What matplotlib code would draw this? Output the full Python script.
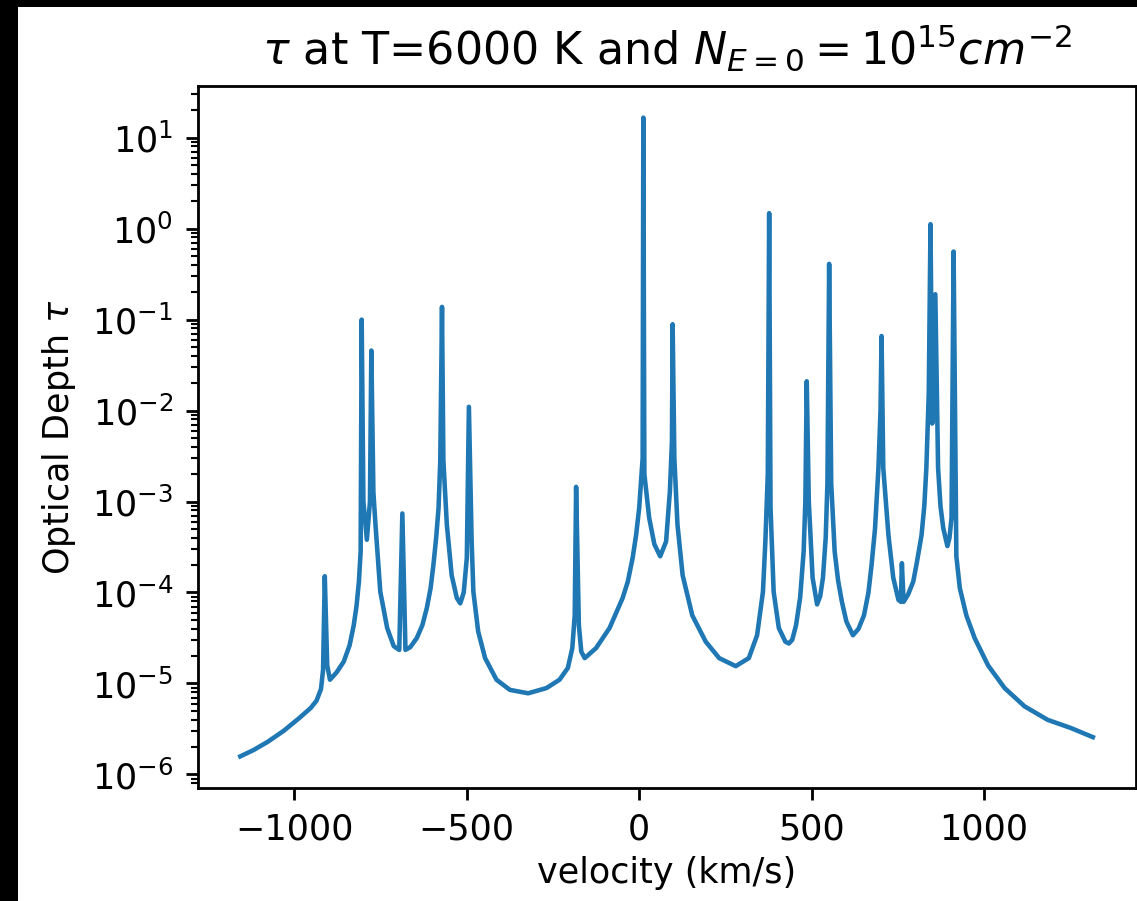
import matplotlib
matplotlib.use("Agg")
import matplotlib.pyplot as plt
from matplotlib.patches import Rectangle

# velocity (km/s) and optical depth
velocity = [
    -1157, -1118, -1077, -1031, -986, -953, -936, -923, -917, -912,
    -905, -897, -878, -857, -840, -828, -820, -813, -808, -805,
    -800, -790, -781, -777, -771, -765, -751, -731, -712, -696,
    -687, -678, -664, -645, -629, -616, -605, -597, -589, -582,
    -577, -572, -568, -558, -544, -529, -519, -509, -500, -494,
    -486, -481, -467, -447, -414, -375, -322, -269, -231, -207,
    -194, -187, -183, -175, -168, -158, -125, -86, -48, -33,
    -19, -9, 0, 10, 12, 15, 29, 44, 61, 78,
    89, 95, 97, 102, 111, 126, 154, 193, 232, 280,
    318, 342, 359, 366, 373, 377, 381, 390, 405, 424,
    434, 444, 455, 467, 477, 482, 486, 492, 503, 516,
    525, 533, 541, 546, 551, 557, 567, 577, 588, 601,
    620, 636, 652, 665, 674, 684, 694, 700, 703, 708,
    723, 737, 752, 759, 762, 767, 780, 795, 806, 819,
    827, 833, 840, 845, 850, 859, 867, 874, 882, 894,
    900, 906, 912, 920, 930, 949, 973, 1012, 1060, 1118,
    1185, 1252, 1316,
]
tau = [
    1.58e-6, 1.86e-6, 2.29e-6, 3.02e-6, 4.17e-6, 5.37e-6, 6.46e-6, 8.7e-6, 1.41e-5, 1.51e-4,
    1.58e-5, 1.10e-5, 1.32e-5, 1.74e-5, 2.63e-5, 4.37e-5, 7.08e-5, 1.32e-4, 2.82e-4, 0.100,
    1.0e-3, 3.8e-4, 1.0e-3, 0.0457, 1.26e-3, 5.6e-4, 1.02e-4, 4.07e-5, 2.57e-5, 2.34e-5,
    7.4e-4, 2.34e-5, 2.51e-5, 3.16e-5, 4.37e-5, 6.76e-5, 1.12e-4, 2.0e-4, 3.98e-4, 8.5e-4,
    2.82e-3, 0.138, 2.82e-3, 5.6e-4, 1.55e-4, 8.7e-5, 7.6e-5, 1.0e-4, 2.4e-4, 0.011,
    3.63e-4, 1.02e-4, 3.72e-5, 1.9e-5, 1.10e-5, 8.5e-6, 7.8e-6, 8.9e-6, 1.10e-5, 1.48e-5,
    2.45e-5, 5.6e-5, 1.45e-3, 4.37e-5, 2.24e-5, 1.9e-5, 2.45e-5, 4.07e-5, 8.7e-5, 1.32e-4,
    2.4e-4, 4.27e-4, 8.5e-4, 3.0e-3, 16.6, 2.0e-3, 6.6e-4, 3.39e-4, 2.5e-4, 3.63e-4,
    1.29e-3, 4.57e-3, 0.089, 3.0e-3, 5.6e-4, 1.55e-4, 5.6e-5, 2.88e-5, 1.9e-5, 1.55e-5,
    1.9e-5, 3.39e-5, 1.02e-4, 3.63e-4, 2.0e-3, 1.48, 8.5e-4, 1.02e-4, 4.07e-5, 2.88e-5,
    2.75e-5, 3.02e-5, 4.37e-5, 8.9e-5, 2.82e-4, 1.0e-3, 0.021, 1.0e-3, 1.45e-4, 7.4e-5,
    9.1e-5, 1.45e-4, 3.98e-4, 1.58e-3, 0.41, 1.58e-3, 2.82e-4, 1.35e-4, 7.9e-5, 4.8e-5,
    3.39e-5, 3.98e-5, 5.6e-5, 1.0e-4, 2.0e-4, 5.0e-4, 2.34e-3, 0.01, 0.066, 2.34e-3,
    4.27e-4, 1.45e-4, 8.3e-5, 7.9e-5, 2.1e-4, 7.9e-5, 9.5e-5, 1.32e-4, 2.2e-4, 4.27e-4,
    8.9e-4, 2.34e-3, 0.0158, 1.12, 7.2e-3, 0.19, 2.34e-3, 8.9e-4, 5.1e-4, 3.24e-4,
    3.98e-4, 6.6e-4, 0.56, 2.5e-4, 1.12e-4, 5.6e-5, 3.16e-5, 1.58e-5, 8.9e-6, 5.6e-6,
    3.98e-6, 3.24e-6, 2.57e-6,
]

W, H, DPI = 1137, 901, 252
fig = plt.figure(figsize=(W / DPI, H / DPI), dpi=DPI)
ax = fig.add_axes([197.7 / W, 1 - 788.3 / H, (1135.5 - 197.7) / W, (788.3 - 85.7) / H])

ax.semilogy(velocity, tau, lw=1.3)
ax.set_xlabel('velocity (km/s)', labelpad=2.5)
ax.set_ylabel(r'Optical Depth $\tau$')
ax.set_title(r'$\tau$ at T=6000 K and $N_{E=0}=10^{15}cm^{-2}$', fontsize=12.7)

# black screen border at the left and top of the screenshot
fig.patches.append(Rectangle((0, 0), 18 / W, 1, transform=fig.transFigure,
                             facecolor='black', edgecolor='none', zorder=-1))
fig.patches.append(Rectangle((0, 1 - 7 / H), 1, 7 / H, transform=fig.transFigure,
                             facecolor='black', edgecolor='none', zorder=-1))

fig.savefig('out.png', dpi=DPI)
